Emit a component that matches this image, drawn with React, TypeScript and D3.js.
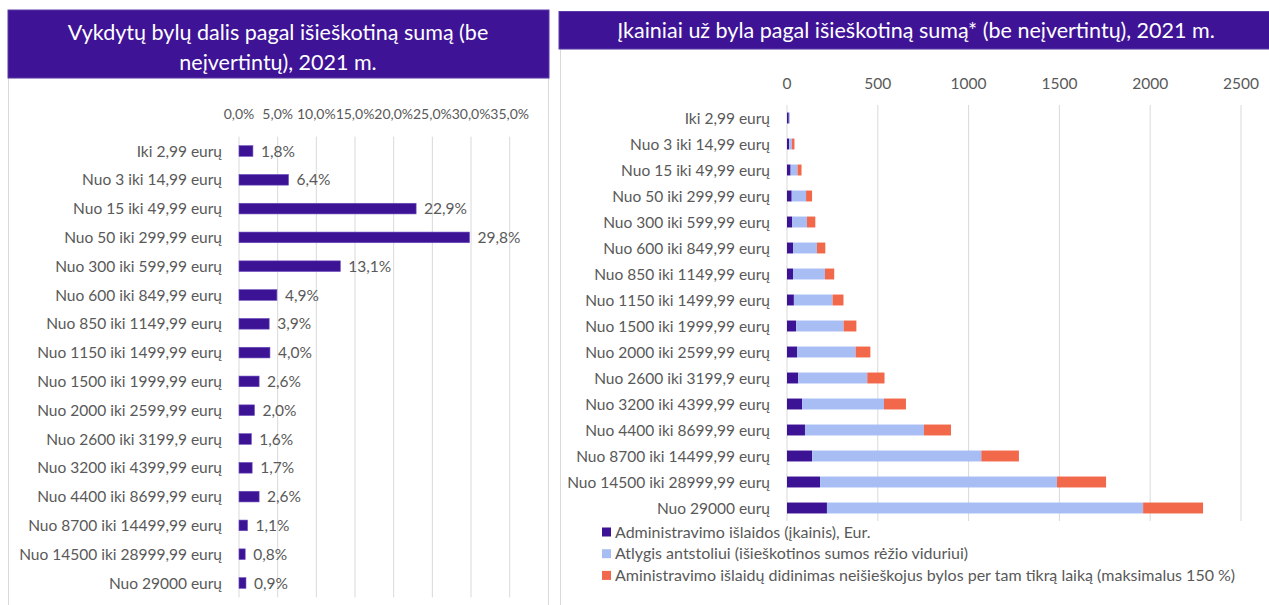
import React from "react";
import * as d3 from "d3";

const categories = [
  "Iki 2,99 eurų",
  "Nuo 3 iki 14,99 eurų",
  "Nuo 15 iki 49,99 eurų",
  "Nuo 50 iki 299,99 eurų",
  "Nuo 300 iki 599,99 eurų",
  "Nuo 600 iki 849,99 eurų",
  "Nuo 850 iki 1149,99 eurų",
  "Nuo 1150 iki 1499,99 eurų",
  "Nuo 1500 iki 1999,99 eurų",
  "Nuo 2000 iki 2599,99 eurų",
  "Nuo 2600 iki 3199,9 eurų",
  "Nuo 3200 iki 4399,99 eurų",
  "Nuo 4400 iki 8699,99 eurų",
  "Nuo 8700 iki 14499,99 eurų",
  "Nuo 14500 iki 28999,99 eurų",
  "Nuo 29000 eurų",
];

// left chart: share of cases, %
const shares = [1.8, 6.4, 22.9, 29.8, 13.1, 4.9, 3.9, 4.0, 2.6, 2.0, 1.6, 1.7, 2.6, 1.1, 0.8, 0.9];
const shareTicks = [0, 5, 10, 15, 20, 25, 30, 35];

// right chart: fees, EUR
const adminCost = [10, 12, 20, 26, 29, 33, 33, 38, 50, 55, 62, 83, 99, 138, 182, 220];
const bailiffFee = [6, 15, 38, 79, 81, 132, 176, 213, 262, 323, 380, 451, 655, 932, 1305, 1741];
const adminIncrease = [0, 14, 22, 33, 46, 46, 51, 60, 70, 81, 95, 121, 149, 207, 270, 330];
const feeTicks = [0, 500, 1000, 1500, 2000, 2500];

const seriesNames = [
  "Administravimo išlaidos (įkainis), Eur.",
  "Atlygis antstoliui (išieškotinos sumos rėžio viduriui)",
  "Aministravimo išlaidų didinimas neišieškojus bylos per tam tikrą laiką (maksimalus 150 %)",
];
const seriesColors = ["#3d1396", "#a9bdf5", "#f2684a"];

const FONT = "Lato, 'Open Sans', sans-serif";
const TEXT = "#595959";
const GRID = "#d9d9d9";
const BAND = "#3e1396";
const FS = 15.5;

const fmtPct = (v: number) => v.toFixed(1).replace(".", ",") + "%";

const LeftChart = () => {
  const x = d3.scaleLinear().domain([0, 35]).range([239, 509.7]);
  const y = d3
    .scaleBand<string>()
    .domain(categories)
    .range([136.6, 597.4])
    .paddingInner(0.63)
    .paddingOuter(0.315);
  const bw = y.bandwidth();

  return (
    <g>
      <rect x={8.5} y={78} width={540} height={530} fill="#fff" stroke={GRID} />
      <rect x={8} y={10} width={541} height={68} fill={BAND} stroke="#5a3aa8" strokeWidth={1} />
      <text x={278} y={40} textAnchor="middle" fill="#fff" fontSize={21.5} fontFamily={FONT}>
        Vykdytų bylų dalis pagal išieškotiną sumą (be
      </text>
      <text x={278} y={70} textAnchor="middle" fill="#fff" fontSize={21.5} fontFamily={FONT}>
        neįvertintų), 2021 m.
      </text>

      {shareTicks.map((t) => (
        <g key={t}>
          <line x1={x(t)} x2={x(t)} y1={136.6} y2={597.4} stroke={GRID} />
          <text x={x(t)} y={118.5} textAnchor="middle" fill={TEXT} fontSize={14} fontFamily={FONT}>
            {fmtPct(t)}
          </text>
        </g>
      ))}

      {categories.map((c, i) => {
        const cy = (y(c) as number) + bw / 2;
        return (
          <g key={c}>
            <text x={222} y={cy + 5.5} textAnchor="end" fill={TEXT} fontSize={FS} fontFamily={FONT}>
              {c}
            </text>
            <rect
              x={x(0)}
              y={y(c)}
              width={x(shares[i]) - x(0)}
              height={bw}
              fill={seriesColors[0]}
              stroke="#6b4dbd"
              strokeWidth={0.6}
            />
            <text x={x(shares[i]) + 8} y={cy + 5.5} fill={TEXT} fontSize={FS} fontFamily={FONT}>
              {fmtPct(shares[i])}
            </text>
          </g>
        );
      })}
    </g>
  );
};

const RightChart = () => {
  const x = d3.scaleLinear().domain([0, 2500]).range([787, 1241]);
  const y = d3
    .scaleBand<string>()
    .domain(categories)
    .range([105, 521])
    .paddingInner(0.58)
    .paddingOuter(0.29);
  const bw = y.bandwidth();

  const rows = categories.map((c, i) => ({
    cat: c,
    s0: adminCost[i],
    s1: bailiffFee[i],
    s2: adminIncrease[i],
  }));
  const stacked = d3.stack<any>().keys(["s0", "s1", "s2"])(rows);

  return (
    <g>
      <rect x={560.5} y={49} width={720} height={560} fill="#fff" stroke={GRID} />
      <rect x={559} y={11.5} width={720} height={37.5} fill={BAND} stroke="#5a3aa8" strokeWidth={1} />
      <text x={916} y={37.5} textAnchor="middle" fill="#fff" fontSize={21.5} fontFamily={FONT}>
        Įkainiai už byla pagal išieškotiną sumą* (be neįvertintų), 2021 m.
      </text>

      {feeTicks.map((t) => (
        <g key={t}>
          <line x1={x(t)} x2={x(t)} y1={105} y2={521} stroke={GRID} />
          <text x={x(t)} y={89} textAnchor="middle" fill={TEXT} fontSize={FS} fontFamily={FONT}>
            {t}
          </text>
        </g>
      ))}

      {categories.map((c) => (
        <text
          key={c}
          x={770}
          y={(y(c) as number) + bw / 2 + 5.5}
          textAnchor="end"
          fill={TEXT}
          fontSize={FS}
          fontFamily={FONT}
        >
          {c}
        </text>
      ))}

      {stacked.map((layer, k) => (
        <g key={k} fill={seriesColors[k]}>
          {layer.map((d: any) => (
            <rect
              key={d.data.cat}
              x={x(d[0])}
              y={y(d.data.cat)}
              width={Math.max(0, x(d[1]) - x(d[0]))}
              height={bw}
            />
          ))}
        </g>
      ))}

      {seriesNames.map((n, k) => (
        <g key={n} transform={`translate(602, ${532 + k * 21.7})`}>
          <rect x={0} y={-4.5} width={9} height={9} fill={seriesColors[k]} />
          <text x={13} y={5.5} fill={TEXT} fontSize={16} fontFamily={FONT}>
            {n}
          </text>
        </g>
      ))}
    </g>
  );
};

export default function App() {
  return (
    <svg
      width={1269}
      height={605}
      style={{ position: "absolute", left: 0, top: 0, display: "block" }}
    >
      <rect width={1269} height={605} fill="#fff" />
      <LeftChart />
      <RightChart />
    </svg>
  );
}
